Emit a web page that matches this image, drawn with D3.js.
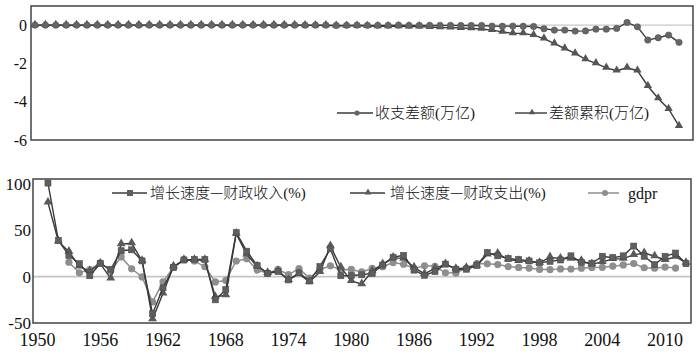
<!DOCTYPE html>
<html><head><meta charset="utf-8">
<script src="https://cdn.jsdelivr.net/npm/d3@7"></script>
<style>
html,body{margin:0;padding:0;background:#fff;}
svg{display:block;}
text{font-family:"Liberation Serif","Noto Sans CJK SC",serif;fill:#111;}
.cjk{font-weight:300;}
.dash{font-family:"Noto Sans CJK SC";font-weight:300;}
</style></head>
<body>
<svg id="c" width="700" height="358"></svg>
<script>
// ---------- data ----------
const years = d3.range(1950, 2013);
const xTickYears = [1950, 1956, 1962, 1968, 1974, 1980, 1986, 1992, 1998, 2004, 2010];
const topTicks = [0, -2, -4, -6];
const bottomTicks = [100, 50, 0, -50];

// 收支差额 (万亿), 1950-2012
const balance = [
  0,0,0,0,0,0,0,0,0,0,
  0,0,0,0,0,0,0,0,0,0,
  0,0,0,0,0,0,0,0,0,-0.02,
  -0.01,0,-0.01,-0.01,-0.01,0,-0.01,-0.01,-0.01,-0.01,
  -0.01,-0.02,-0.02,-0.02,-0.05,-0.06,-0.05,-0.06,-0.07,-0.19,
  -0.26,-0.26,-0.31,-0.30,-0.21,-0.21,-0.17,0.14,-0.09,-0.78,
  -0.66,-0.52,-0.90
];
// 差额累积 (万亿), 1950-2012
const cumBalance = [
  0,0,0,0,0,0,0,0,0,0,
  0,0,0,0,0,0,0,0,0,0,
  0,0,0,0,0,0,-0.01,-0.01,-0.01,-0.03,
  -0.04,-0.04,-0.05,-0.06,-0.06,-0.06,-0.07,-0.08,-0.10,-0.12,
  -0.13,-0.15,-0.17,-0.20,-0.26,-0.35,-0.43,-0.43,-0.52,-0.70,
  -0.96,-1.22,-1.48,-1.79,-2.00,-2.23,-2.38,-2.23,-2.38,-3.18,
  -3.83,-4.38,-5.27
];
// 增长速度—财政收入(%), 1950-2012
const revenueGrowth = [
  null,101,39,23,14,1,14,8,28,29,
  17,-40,-12,10,18,18.5,18.5,-25,-14,47.5,
  27.5,12,3.5,5.5,-3.5,4,-4.7,11,30,1,
  1.2,2,3.5,12.5,21,23,7,1.5,5.5,13.5,
  8,8,12,26,22.5,19.5,18.5,17,15,16.5,
  18,22.5,15.5,14.5,22,20.5,22.5,33,22,13,
  22,25.5,14
];
// 增长速度—财政支出(%), 1950-2012
const expenditureGrowth = [
  null,80,38,27,11,6,14,-2,35,36,
  17,-46,-18,11,18,18,18,-22,-20,46.5,
  24,11,4,6,-3.5,3,-5.5,5,33,10,
  -4.5,-8,6,13.5,20.5,19.5,10,3,9,13.5,
  8.5,9.5,12,24,25,18.5,17,16.5,15,21,
  19.5,19.5,17,13.5,16,19,19.5,23.5,25.5,22,
  18,21.5,15
];
// gdpr, 1950-2012
const gdpr = [
  null,null,null,15.6,4.2,7.5,15,6,21.3,8.5,
  -0.3,-27.3,-5.6,10.2,18.3,17,10.7,-5.7,-4.1,16.9,
  19.3,7.1,3.8,7.8,2.3,8.7,-1.6,7.6,11.7,7.6,
  7.8,5.1,9,10.8,15.2,13.4,8.9,11.7,11.2,4.2,
  3.9,9.3,14.2,13.9,13.1,10.9,10,9.3,7.8,7.6,
  8.4,8.3,9.1,10,10.1,11.3,12.7,14.2,9.6,9.2,
  10.4,9.3,null
];

// ---------- drawing ----------
const svg = d3.select("#c");
const dark = "#3a3a3a", mark = "#666", light = "#8e8e8e";

// ===== top chart =====
const T = {l:31, r:693, t:6, b:140};
const xT = d3.scaleLinear().domain([1950, 2012]).range([35, 679]);
const yT = d3.scaleLinear().domain([-6, 1]).range([T.b, T.t]);

svg.append("line").attr("x1", T.l).attr("x2", T.r).attr("y1", yT(0)).attr("y2", yT(0))
  .attr("stroke", "#c8c8c8").attr("stroke-width", 1.2);

const lineT = arr => d3.line().defined((d,i)=>arr[i]!=null).x((d,i)=>xT(years[i])).y((d,i)=>yT(arr[i]))(arr);

svg.append("path").attr("d", lineT(cumBalance)).attr("fill","none").attr("stroke", dark).attr("stroke-width",1.4);
svg.append("path").attr("d", lineT(balance)).attr("fill","none").attr("stroke", dark).attr("stroke-width",1.4);

const tri = d3.symbol().type(d3.symbolTriangle);
svg.append("g").selectAll("path").data(years).join("path")
  .attr("d", tri.size(30)())
  .attr("transform", (d,i)=>`translate(${xT(d)},${yT(cumBalance[i])-0.5})`)
  .attr("fill", "#555");
svg.append("g").selectAll("circle").data(years).join("circle")
  .attr("cx", d=>xT(d)).attr("cy", (d,i)=>yT(balance[i])).attr("r", 3.2)
  .attr("fill", mark).attr("stroke", "#555").attr("stroke-width", 0.6);

svg.append("rect").attr("x", T.l).attr("y", T.t).attr("width", T.r-T.l).attr("height", T.b-T.t)
  .attr("fill","none").attr("stroke","#444").attr("stroke-width",1.5);

svg.append("g").selectAll("text").data(topTicks).join("text")
  .attr("x", 27).attr("y", d=>yT(d)).attr("dy","0.35em").attr("text-anchor","end")
  .style("font-size","16px").text(d=>d);

// legend helper: text with CJK parts
function legendText(g, x, y, parts, size) {
  const t = g.append("text").attr("x", x).attr("y", y).attr("dy","0.35em").style("font-size", size);
  parts.forEach(p => {
    t.append("tspan").attr("class", p.cls || null).style("fill", "#111").text(p.s);
  });
  return t;
}

// top legend
const lgT = svg.append("g");
lgT.append("line").attr("x1",337).attr("x2",373).attr("y1",113).attr("y2",113).attr("stroke",dark).attr("stroke-width",1.4);
lgT.append("circle").attr("cx",357).attr("cy",113).attr("r",2.6).attr("fill",mark);
legendText(lgT, 375, 113, [{s:"收支差额",cls:"cjk"},{s:"("},{s:"万亿",cls:"cjk"},{s:")"}], "15px");
lgT.append("line").attr("x1",515).attr("x2",547).attr("y1",113).attr("y2",113).attr("stroke",dark).attr("stroke-width",1.4);
lgT.append("path").attr("d", tri.size(18)()).attr("transform","translate(532,112.5)").attr("fill","#555");
legendText(lgT, 549, 113, [{s:"差额累积",cls:"cjk"},{s:"("},{s:"万亿",cls:"cjk"},{s:")"}], "15px");

// ===== bottom chart =====
const B = {l:33, r:691, t:179, b:323};
const xB = d3.scaleLinear().domain([1950, 2012]).range([37.5, 686]);
const yB = d3.scaleLinear().domain([-50, 100]).range([323, 184]);

svg.append("line").attr("x1", B.l).attr("x2", B.r).attr("y1", yB(0)).attr("y2", yB(0))
  .attr("stroke", "#c4c4c4").attr("stroke-width", 1.6);

const lineB = arr => d3.line().defined((d,i)=>arr[i]!=null).x((d,i)=>xB(years[i])).y((d,i)=>yB(arr[i]))(arr);

svg.append("path").attr("d", lineB(gdpr)).attr("fill","none").attr("stroke", light).attr("stroke-width",1.5);
svg.append("g").selectAll("circle").data(years.filter((d,i)=>gdpr[i]!=null)).join("circle")
  .attr("cx", d=>xB(d)).attr("cy", d=>yB(gdpr[d-1950])).attr("r", 3.6).attr("fill", light);

svg.append("path").attr("d", lineB(expenditureGrowth)).attr("fill","none").attr("stroke", dark).attr("stroke-width",1.4);
svg.append("g").selectAll("path").data(years.filter((d,i)=>expenditureGrowth[i]!=null)).join("path")
  .attr("d", tri.size(34)())
  .attr("transform", d=>`translate(${xB(d)},${yB(expenditureGrowth[d-1950])-0.5})`)
  .attr("fill", "#5a5a5a");

svg.append("path").attr("d", lineB(revenueGrowth)).attr("fill","none").attr("stroke", dark).attr("stroke-width",1.4);
svg.append("g").selectAll("rect").data(years.filter((d,i)=>revenueGrowth[i]!=null)).join("rect")
  .attr("x", d=>xB(d)-3).attr("y", d=>yB(revenueGrowth[d-1950])-3).attr("width",6).attr("height",6)
  .attr("fill", "#5e5e5e").attr("stroke","#4a4a4a").attr("stroke-width",0.6);

svg.append("rect").attr("x", B.l).attr("y", B.t).attr("width", B.r-B.l).attr("height", B.b-B.t)
  .attr("fill","none").attr("stroke","#444").attr("stroke-width",1.5);

svg.append("g").selectAll("text").data(bottomTicks).join("text")
  .attr("x", 31).attr("y", d=>yB(d)).attr("dy","0.35em").attr("text-anchor","end")
  .style("font-size","17px").text(d=>d);

svg.append("g").selectAll("text").data(xTickYears).join("text")
  .attr("x", d=>xB(d)).attr("y", 346).attr("text-anchor","middle")
  .style("font-size","18px").text(d=>d);

// bottom legend
const lgB = svg.append("g");
const ly = 193;
lgB.append("line").attr("x1",112).attr("x2",147).attr("y1",ly).attr("y2",ly).attr("stroke",dark).attr("stroke-width",1.4);
lgB.append("rect").attr("x",127).attr("y",ly-3).attr("width",6).attr("height",6).attr("fill","#5e5e5e");
legendText(lgB, 150, ly, [{s:"增长速度",cls:"cjk"},{s:"—",cls:"dash"},{s:"财政收入",cls:"cjk"},{s:"(%)"}], "15px");
lgB.append("line").attr("x1",350).attr("x2",385).attr("y1",ly).attr("y2",ly).attr("stroke",dark).attr("stroke-width",1.4);
lgB.append("path").attr("d", tri.size(20)()).attr("transform",`translate(368,${ly-0.5})`).attr("fill","#5a5a5a");
legendText(lgB, 390, ly, [{s:"增长速度",cls:"cjk"},{s:"—",cls:"dash"},{s:"财政支出",cls:"cjk"},{s:"(%)"}], "15px");
lgB.append("line").attr("x1",588).attr("x2",619).attr("y1",ly).attr("y2",ly).attr("stroke",light).attr("stroke-width",1.5);
lgB.append("circle").attr("cx",605).attr("cy",ly).attr("r",3).attr("fill",light);
lgB.append("text").attr("x",628).attr("y",ly).attr("dy","0.35em").style("font-size","16px").text("gdpr");
</script>
</body></html>
